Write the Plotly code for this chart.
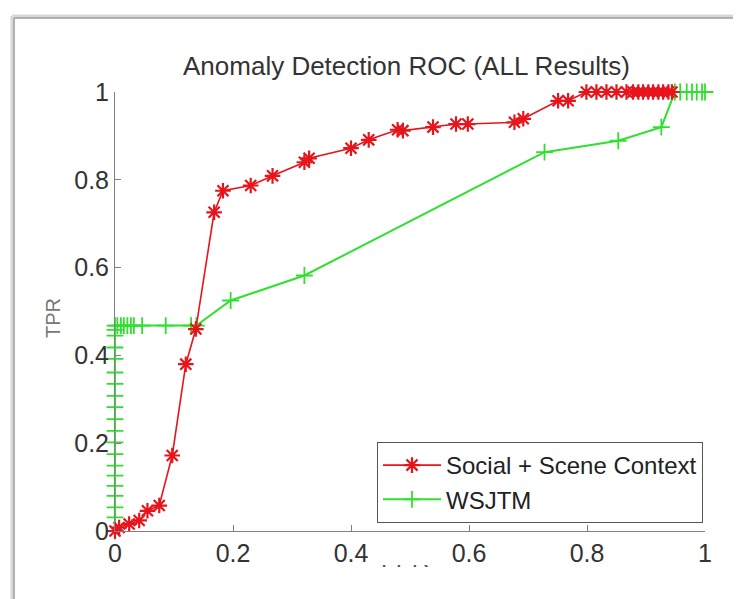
import plotly.graph_objects as go

# The page body has an 8px margin, so the figure is drawn 8px in from the
# window's corner; it is sized so that it exactly fills the 741x599 window.
PAGE_W, PAGE_H = 741, 599
OFF = 8
W, H = PAGE_W - OFF, PAGE_H - OFF

title_text = "Anomaly Detection ROC (ALL Results)"
x_label = "FPR"
y_label = "TPR"
tick_vals = [0, 0.2, 0.4, 0.6, 0.8, 1]
tick_text = ["0", "0.2", "0.4", "0.6", "0.8", "1"]

social_name = "Social + Scene Context"
social_fpr = [0.0, 0.007, 0.024, 0.041, 0.055, 0.075, 0.097, 0.12, 0.137, 0.168, 0.183,
              0.230, 0.267, 0.321, 0.329, 0.400, 0.430, 0.479, 0.488, 0.539, 0.578, 0.598,
              0.677, 0.692, 0.751, 0.768, 0.799, 0.816, 0.833, 0.850, 0.867, 0.878, 0.887,
              0.895, 0.904, 0.912, 0.921, 0.929, 0.938, 0.944]
social_tpr = [0.0, 0.008, 0.016, 0.024, 0.046, 0.058, 0.172, 0.38, 0.46, 0.726, 0.775,
              0.787, 0.809, 0.840, 0.849, 0.872, 0.891, 0.914, 0.912, 0.920, 0.927, 0.927,
              0.931, 0.939, 0.980, 0.980, 1.0, 1.0, 1.0, 1.0, 1.0, 1.0, 1.0,
              1.0, 1.0, 1.0, 1.0, 1.0, 1.0, 1.0]

wsjtm_name = "WSJTM"
wsjtm_fpr = [0.0, 0.0, 0.0, 0.0, 0.0, 0.0, 0.0, 0.0, 0.0, 0.0, 0.0, 0.0, 0.0, 0.0, 0.0,
             0.0, 0.0, 0.0, 0.0, 0.0, 0.004, 0.010, 0.015, 0.021, 0.027, 0.032, 0.046,
             0.086, 0.129, 0.138, 0.196, 0.321, 0.728, 0.853, 0.926, 0.949, 0.958, 0.969,
             0.978, 0.986, 0.995, 1.0]
wsjtm_tpr = [0.0, 0.031, 0.054, 0.080, 0.103, 0.126, 0.149, 0.175, 0.202, 0.228, 0.255,
             0.282, 0.308, 0.335, 0.361, 0.392, 0.418, 0.445, 0.458, 0.468, 0.468, 0.468,
             0.468, 0.468, 0.468, 0.468, 0.468, 0.468, 0.468, 0.468, 0.525, 0.582, 0.863,
             0.889, 0.920, 1.0, 1.0, 1.0, 1.0, 1.0, 1.0, 1.0]

RED = "#e8141c"
GREEN = "#2fe02f"
AXIS = "#808080"
FONT = "Liberation Sans, Arial, sans-serif"


def px_x(p):
    """page pixel x -> paper fraction"""
    return (p - OFF) / W


def px_y(p):
    """page pixel y -> paper fraction"""
    return 1 - (p - OFF) / H


fig = go.Figure()

fig.add_trace(go.Scatter(
    x=wsjtm_fpr, y=wsjtm_tpr, name=wsjtm_name, mode="lines+markers",
    line=dict(color=GREEN, width=2),
    marker=dict(symbol="cross-thin-open", size=12, color=GREEN,
                line=dict(color=GREEN, width=1.8)),
    cliponaxis=False,
))
fig.add_trace(go.Scatter(
    x=social_fpr, y=social_tpr, name=social_name, mode="lines+markers",
    line=dict(color=RED, width=1.6),
    marker=dict(symbol="asterisk-open", size=13, color=RED,
                line=dict(color=RED, width=2.2)),
    cliponaxis=False,
))

# x-axis label: only its lower edge is visible in the original, so clip it
fig.add_trace(go.Scatter(
    x=[405], y=[561], mode="text", text=[x_label], textposition="middle center",
    textfont=dict(size=24, color="#555555", family=FONT),
    xaxis="x2", yaxis="y2", showlegend=False, cliponaxis=True, hoverinfo="skip",
))

axis_common = dict(
    showgrid=False, zeroline=False, showline=True, linecolor=AXIS, linewidth=1,
    ticks="inside", ticklen=6, tickcolor=AXIS, tickwidth=1,
    tickfont=dict(size=25, color="#333333", family=FONT),
    tickvals=tick_vals, ticktext=tick_text, mirror=False, automargin=False,
)

fig.update_layout(
    width=W, height=H,
    margin=dict(l=0, r=0, t=0, b=0, pad=0, autoexpand=False),
    paper_bgcolor="white", plot_bgcolor="white",
    font=dict(family=FONT, color="#333333"),
    xaxis=dict(domain=[px_x(115), px_x(705)], range=[0, 1], anchor="y", **axis_common),
    yaxis=dict(domain=[px_y(531), px_y(92)], range=[0, 1], anchor="x", **axis_common),
    xaxis2=dict(domain=[0, 1], range=[OFF, PAGE_W], visible=False, anchor="y2",
                automargin=False),
    yaxis2=dict(domain=[px_y(572), px_y(565)], range=[572, 565], visible=False,
                anchor="x2", automargin=False),
    legend=dict(
        x=px_x(703), y=px_y(523), xanchor="right", yanchor="bottom",
        bgcolor="white", bordercolor="#555555", borderwidth=1,
        font=dict(size=24, color="#222222", family=FONT),
        traceorder="reversed", tracegroupgap=0, itemwidth=58,
    ),
    showlegend=True,
    annotations=[
        dict(text=title_text, x=px_x(406), y=px_y(66), xref="paper", yref="paper",
             showarrow=False, font=dict(size=26, color="#333333", family=FONT),
             xanchor="center", yanchor="middle"),
        dict(text=y_label, x=px_x(53), y=px_y(318), xref="paper", yref="paper",
             showarrow=False, textangle=-90, font=dict(size=20, color="#777777", family=FONT),
             xanchor="center", yanchor="middle"),
    ],
    shapes=[
        dict(type="line", xref="paper", yref="paper", x0=px_x(12), x1=px_x(12),
             y0=px_y(16), y1=0, line=dict(color="#d8d8d8", width=3)),
        dict(type="line", xref="paper", yref="paper", x0=px_x(12), x1=1,
             y0=px_y(16), y1=px_y(16), line=dict(color="#d8d8d8", width=3)),
        dict(type="line", xref="paper", yref="paper", x0=px_x(14), x1=px_x(14),
             y0=px_y(18), y1=0, line=dict(color="#9a9a9a", width=1.5)),
        dict(type="line", xref="paper", yref="paper", x0=px_x(14), x1=1,
             y0=px_y(18), y1=px_y(18), line=dict(color="#9a9a9a", width=1.5)),
        dict(type="line", xref="paper", yref="paper", x0=px_x(738), x1=px_x(738),
             y0=px_y(18), y1=0, line=dict(color="#e6e6e6", width=1)),
    ],
)

fig.write_html("out.html")
